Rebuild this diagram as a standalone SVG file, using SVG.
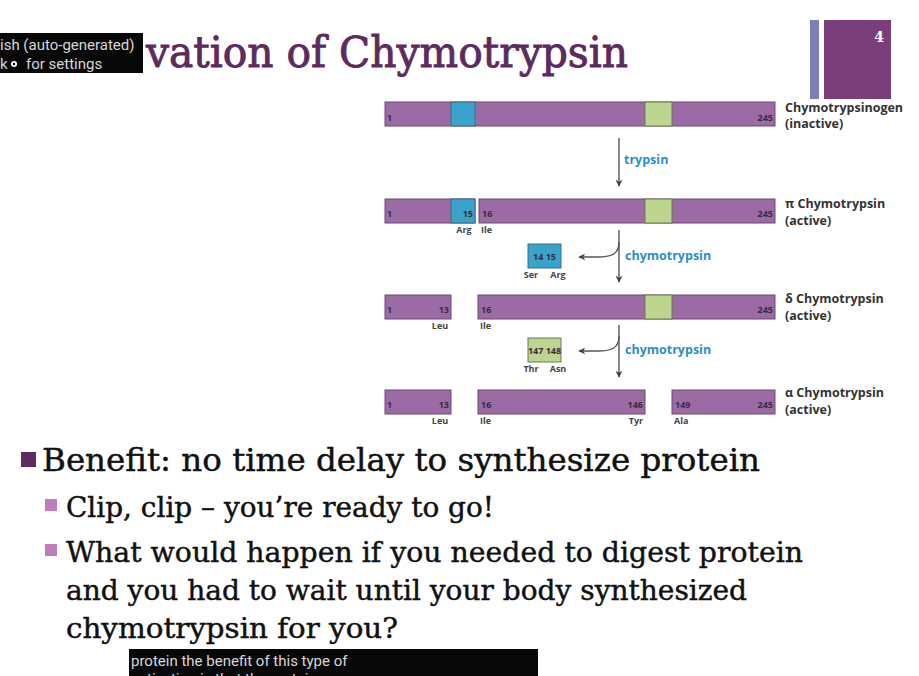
<svg xmlns="http://www.w3.org/2000/svg" width="919" height="676" viewBox="0 0 919 676">
<defs>
<style>
.bar{fill:#9c6ba6;stroke:#6a4a73;stroke-width:1}
.blue{fill:#3aa3cb;stroke:#3d6f80;stroke-width:1}
.green{fill:#bcd68f;stroke:#6a7a50;stroke-width:1}
.num{font-family:"Open Sans","Noto Sans",sans-serif;font-weight:bold;font-size:9px;fill:#3b2a40}
.aa{font-family:"Open Sans","Noto Sans",sans-serif;font-weight:bold;font-size:9px;fill:#444}
.name{font-family:"Open Sans","Noto Sans",sans-serif;font-weight:bold;font-size:12.5px;fill:#333}
.enz{font-family:"Open Sans","Noto Sans",sans-serif;font-weight:bold;font-size:12.5px;fill:#2a8fc8}
.arr{fill:none;stroke:#555;stroke-width:1.4}
.body{font-family:"DejaVu Serif","Liberation Serif",serif;fill:#111;stroke:#111;stroke-width:0.45}
.cap{font-family:Roboto,"Liberation Sans",sans-serif;font-size:15px;fill:#d6d6d6}
</style>
<marker id="ah" viewBox="0 0 10 10" refX="9" refY="5" markerWidth="7" markerHeight="7" orient="auto" markerUnits="userSpaceOnUse">
<path d="M0,0 L10,5 L0,10 L3,5 Z" fill="#444"/>
</marker>
</defs>
<rect width="919" height="676" fill="#fff"/>

<g id="title">
<text x="146" y="67" font-family="'DejaVu Serif','Liberation Serif',serif" font-size="42" fill="#5c2b5e" stroke="#5c2b5e" stroke-width="0.9" textLength="482" lengthAdjust="spacingAndGlyphs">vation of Chymotrypsin</text>
</g>

<g id="slide-number">
<rect x="810" y="20" width="9" height="79" fill="#7f7fb5"/>
<rect x="824" y="20" width="67" height="79" fill="#7a3f7a"/>
<text x="879" y="42" font-family="'DejaVu Serif',serif" font-weight="bold" font-size="14" fill="#fff" text-anchor="middle">4</text>
</g>

<g id="chymotrypsinogen">
<rect class="bar" x="385" y="102" width="390" height="24"/>
<rect class="blue" x="451" y="102" width="24" height="24"/>
<rect class="green" x="645" y="102" width="27" height="24"/>
<text class="num" x="387" y="121">1</text>
<text class="num" x="773" y="121" text-anchor="end">245</text>
<text class="name" x="785" y="112">Chymotrypsinogen</text>
<text class="name" x="785" y="128">(inactive)</text>
</g>

<g id="pi-chymotrypsin">
<rect class="bar" x="385" y="199" width="90" height="24"/>
<rect class="blue" x="451" y="199" width="24" height="24"/>
<rect class="bar" x="479" y="199" width="296" height="24"/>
<rect class="green" x="645" y="199" width="27" height="24"/>
<text class="num" x="387" y="217">1</text>
<text class="num" x="473" y="217" text-anchor="end">15</text>
<text class="num" x="482" y="217">16</text>
<text class="num" x="773" y="217" text-anchor="end">245</text>
<text class="aa" x="464" y="233" text-anchor="middle">Arg</text>
<text class="aa" x="481" y="233">Ile</text>
<text class="name" x="785" y="208">π Chymotrypsin</text>
<text class="name" x="785" y="225">(active)</text>
</g>

<g id="ser-arg">
<rect class="blue" x="528" y="244" width="33" height="24"/>
<text class="num" x="544.5" y="260" text-anchor="middle">14 15</text>
<text class="aa" x="531" y="278" text-anchor="middle">Ser</text>
<text class="aa" x="558" y="278" text-anchor="middle">Arg</text>
</g>

<g id="delta-chymotrypsin">
<rect class="bar" x="385" y="295" width="66" height="24"/>
<rect class="bar" x="478" y="295" width="297" height="24"/>
<rect class="green" x="645" y="295" width="27" height="24"/>
<text class="num" x="387" y="313">1</text>
<text class="num" x="449" y="313" text-anchor="end">13</text>
<text class="num" x="481" y="313">16</text>
<text class="num" x="773" y="313" text-anchor="end">245</text>
<text class="aa" x="440" y="329" text-anchor="middle">Leu</text>
<text class="aa" x="480" y="329">Ile</text>
<text class="name" x="785" y="303">δ Chymotrypsin</text>
<text class="name" x="785" y="320">(active)</text>
</g>

<g id="thr-asn">
<rect class="green" x="528" y="338" width="33" height="24"/>
<text class="num" x="544.5" y="354" text-anchor="middle" font-size="7.5">147 148</text>
<text class="aa" x="531" y="372" text-anchor="middle">Thr</text>
<text class="aa" x="558" y="372" text-anchor="middle">Asn</text>
</g>

<g id="alpha-chymotrypsin">
<rect class="bar" x="385" y="390" width="66" height="24"/>
<rect class="bar" x="478" y="390" width="167" height="24"/>
<rect class="bar" x="672" y="390" width="103" height="24"/>
<text class="num" x="387" y="408">1</text>
<text class="num" x="449" y="408" text-anchor="end">13</text>
<text class="num" x="481" y="408">16</text>
<text class="num" x="643" y="408" text-anchor="end">146</text>
<text class="num" x="675" y="408">149</text>
<text class="num" x="773" y="408" text-anchor="end">245</text>
<text class="aa" x="440" y="424" text-anchor="middle">Leu</text>
<text class="aa" x="480" y="424">Ile</text>
<text class="aa" x="636" y="424" text-anchor="middle">Tyr</text>
<text class="aa" x="674" y="424">Ala</text>
<text class="name" x="785" y="397">α Chymotrypsin</text>
<text class="name" x="785" y="414">(active)</text>
</g>

<g id="connectors">
<line class="arr" x1="619" y1="138" x2="619" y2="186" marker-end="url(#ah)"/>
<text class="enz" x="624" y="164">trypsin</text>
<line class="arr" x1="619" y1="230" x2="619" y2="282" marker-end="url(#ah)"/>
<path class="arr" d="M619,242 C619,254 612,257 598,257 L579,257" marker-end="url(#ah)"/>
<text class="enz" x="625" y="260">chymotrypsin</text>
<line class="arr" x1="619" y1="325" x2="619" y2="377" marker-end="url(#ah)"/>
<path class="arr" d="M619,336 C619,348 612,351 598,351 L579,351" marker-end="url(#ah)"/>
<text class="enz" x="625" y="354">chymotrypsin</text>
</g>

<g id="bullets">
<rect x="21" y="452" width="15" height="15" fill="#5e2b5e"/>
<text class="body" x="42" y="471" font-size="31" textLength="718" lengthAdjust="spacingAndGlyphs">Benefit: no time delay to synthesize protein</text>
<rect x="45" y="499" width="12" height="12" fill="#c07cc0"/>
<text class="body" x="66" y="517" font-size="27" textLength="428" lengthAdjust="spacingAndGlyphs">Clip, clip – you’re ready to go!</text>
<rect x="45" y="544" width="12" height="12" fill="#c07cc0"/>
<text class="body" x="66" y="562" font-size="27" textLength="737" lengthAdjust="spacingAndGlyphs">What would happen if you needed to digest protein</text>
<text class="body" x="66" y="600" font-size="27" textLength="681" lengthAdjust="spacingAndGlyphs">and you had to wait until your body synthesized</text>
<text class="body" x="66" y="638" font-size="27" textLength="332" lengthAdjust="spacingAndGlyphs">chymotrypsin for you?</text>
</g>

<g id="caption-top">
<rect x="0" y="33" width="143" height="40" fill="#080808"/>
<text class="cap" x="0" y="50">ish (auto-generated)</text>
<text class="cap" x="0" y="69" font-size="13">k</text>
<circle cx="14" cy="64" r="3" fill="#fff"/>
<circle cx="14" cy="64" r="1.2" fill="#080808"/>
<text class="cap" x="26" y="69">for settings</text>
</g>

<g id="caption-bottom">
<rect x="129" y="649" width="409" height="30" fill="#080808"/>
<text class="cap" x="131" y="666" font-size="14.5">protein the benefit of this type of</text>
<text class="cap" x="131" y="684" font-size="14.5">activation is that the protein</text>
</g>
</svg>
